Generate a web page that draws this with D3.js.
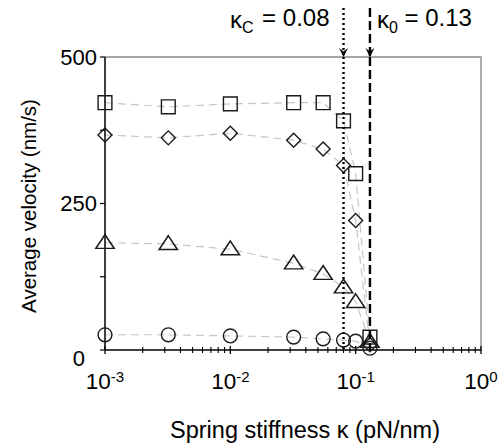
<!DOCTYPE html>
<html>
<head>
<meta charset="utf-8">
<script src="https://cdn.jsdelivr.net/npm/d3@7"></script>
<style>
  body { margin: 0; background: #fff; }
  text { font-family: "Liberation Sans", Arial, sans-serif; fill: #000; }
</style>
</head>
<body>
<script>
// spring stiffness values (pN/nm) and the four velocity series (nm/s)
const kappa = [0.001, 0.0032, 0.01, 0.032, 0.055, 0.08, 0.1, 0.13];
const squares = [422, 415, 420, 422, 422, 391, 301, 22];
const diamonds = [367, 362, 370, 358, 343, 315, 221, 9];
const triangles = [183, 181, 172, 148, 130, 107, 82, 14];
const circles = [26, 26, 24, 22, 19, 17, 15, 3];
const yTicks = [0, 250, 500];
const yMinor = [125, 375];
const xDecades = [-3, -2, -1, 0];
const kappaC = 0.08;
const kappa0 = 0.13;

const width = 499, height = 448;
const margin = {top: 57, bottom: 98, left: 105, right: 18};

const svg = d3.select('body').append('svg')
  .attr('width', width)
  .attr('height', height);

const x = d3.scaleLog()
  .domain([1e-3, 1])
  .range([margin.left, width - margin.right]);
const y = d3.scaleLinear()
  .domain([0, 500])
  .range([height - margin.bottom, margin.top]);

const x0 = x.range()[0], x1 = x.range()[1];
const y0 = y.range()[0], y1 = y.range()[1];

// grey frame (top and right)
svg.append('path')
  .attr('d', `M${x0},${y1}H${x1}V${y0}`)
  .attr('fill', 'none')
  .attr('stroke', '#8a8a8a')
  .attr('stroke-width', 1.4);

// connecting lines
const line = d3.line()
  .x((d, i) => x(kappa[i]))
  .y((d) => y(d));

const series = [
  {values: squares, shape: 'square'},
  {values: diamonds, shape: 'diamond'},
  {values: triangles, shape: 'triangle'},
  {values: circles, shape: 'circle'}
];

svg.selectAll('.link').data(series).enter().append('path')
  .attr('class', 'link')
  .attr('d', (s) => line(s.values))
  .attr('fill', 'none')
  .attr('stroke', '#c6c6c6')
  .attr('stroke-width', 1.2)
  .attr('stroke-dasharray', '8,5');

// axes lines
svg.append('line')
  .attr('x1', x0).attr('x2', x0)
  .attr('y1', y1).attr('y2', y0)
  .attr('stroke', '#000').attr('stroke-width', 1.5);
svg.append('line')
  .attr('x1', x0).attr('x2', x1)
  .attr('y1', y0).attr('y2', y0)
  .attr('stroke', '#000').attr('stroke-width', 1.5);

// y ticks
svg.selectAll('.ytick').data(yTicks.concat(yMinor)).enter().append('line')
  .attr('x1', x0 - 5).attr('x2', x0)
  .attr('y1', (d) => y(d)).attr('y2', (d) => y(d))
  .attr('stroke', '#000').attr('stroke-width', 1.2);

svg.selectAll('.ylab').data(yTicks).enter().append('text')
  .attr('x', (d) => d === 0 ? x0 - 20 : x0 - 8)
  .attr('y', (d) => d === 0 ? y(d) + 8 : y(d))
  .attr('dy', '0.36em')
  .attr('text-anchor', 'end')
  .style('font-size', '22px')
  .text((d) => d);

// x ticks (log)
const minor = [];
xDecades.slice(0, -1).forEach((p) => {
  for (let m = 2; m <= 9; m++) minor.push(m * Math.pow(10, p));
});
svg.selectAll('.xminor').data(minor).enter().append('line')
  .attr('x1', (d) => x(d)).attr('x2', (d) => x(d))
  .attr('y1', y0 - 3).attr('y2', y0 + 3)
  .attr('stroke', '#000').attr('stroke-width', 1.1);
svg.selectAll('.xmajor').data(xDecades).enter().append('line')
  .attr('x1', (d) => x(Math.pow(10, d))).attr('x2', (d) => x(Math.pow(10, d)))
  .attr('y1', y0 - 4).attr('y2', y0 + 4)
  .attr('stroke', '#000').attr('stroke-width', 1.3);

const xl = svg.selectAll('.xlab').data(xDecades).enter().append('text')
  .attr('x', (d) => x(Math.pow(10, d)))
  .attr('y', y0 + 39)
  .attr('text-anchor', 'middle')
  .style('font-size', '22.5px');
xl.append('tspan').text('10');
xl.append('tspan')
  .attr('dy', '-0.45em')
  .style('font-size', '15px')
  .text((d) => d === 0 ? '0' : '-' + Math.abs(d));

// axis titles
svg.append('text')
  .attr('x', 305)
  .attr('y', 438)
  .attr('text-anchor', 'middle')
  .style('font-size', '23.5px')
  .text('Spring stiffness κ (pN/nm)');

svg.append('text')
  .attr('transform', 'translate(36, 206) rotate(-90)')
  .attr('text-anchor', 'middle')
  .style('font-size', '20.5px')
  .text('Average velocity (nm/s)');

// markers
const sym = {
  square: d3.symbol(d3.symbolSquare, 190)(),
  diamond: d3.symbol(d3.symbolSquare, 98)(),
  triangle: d3.symbol(d3.symbolTriangle, 110)(),
  circle: d3.symbol(d3.symbolCircle, 150)()
};

series.forEach((s) => {
  svg.append('g').selectAll('path').data(s.values).enter().append('path')
    .attr('d', sym[s.shape])
    .attr('transform', (d, i) => `translate(${x(kappa[i])},${y(d)})` +
      (s.shape === 'diamond' ? ' rotate(45)' : '') +
      (s.shape === 'triangle' ? ' translate(0,1) scale(1.15,1)' : ''))
    .attr('fill', 'none')
    .attr('stroke', '#1a1a1a')
    .attr('stroke-width', 1.4);
});

// critical stiffness markers
const defs = svg.append('defs');
defs.append('marker')
  .attr('id', 'arrow')
  .attr('viewBox', '0 0 10 10')
  .attr('refX', 5).attr('refY', 10)
  .attr('markerWidth', 9).attr('markerHeight', 16)
  .attr('markerUnits', 'userSpaceOnUse')
  .attr('orient', 0)
  .append('path')
  .attr('d', 'M0,0 L5,4 L10,0 L5,10 Z')
  .attr('fill', '#000');

const vlines = [
  {k: kappaC, dash: '2,3'},
  {k: kappa0, dash: '9,4'}
];
vlines.forEach((v) => {
  svg.append('line')
    .attr('x1', x(v.k)).attr('x2', x(v.k))
    .attr('y1', 8).attr('y2', y1)
    .attr('stroke', '#000').attr('stroke-width', 2.4)
    .attr('stroke-dasharray', v.dash)
    .attr('marker-end', 'url(#arrow)');
  svg.append('line')
    .attr('x1', x(v.k)).attr('x2', x(v.k))
    .attr('y1', y1).attr('y2', y0)
    .attr('stroke', '#000').attr('stroke-width', 2.4)
    .attr('stroke-dasharray', v.dash);
});

const tC = svg.append('text')
  .attr('x', x(kappaC) - 14)
  .attr('y', 28)
  .attr('text-anchor', 'end')
  .style('font-size', '24px');
tC.append('tspan').text('κ');
tC.append('tspan').attr('dy', '0.3em').style('font-size', '16px').text('C');
tC.append('tspan').attr('dy', '-0.3em').attr('dx', 2).text(' = ' + kappaC);

const t0 = svg.append('text')
  .attr('x', x(kappa0) + 7)
  .attr('y', 28)
  .attr('text-anchor', 'start')
  .style('font-size', '24px');
t0.append('tspan').text('κ');
t0.append('tspan').attr('dy', '0.3em').style('font-size', '16px').text('0');
t0.append('tspan').attr('dy', '-0.3em').text(' = ' + kappa0);
</script>
</body>
</html>
